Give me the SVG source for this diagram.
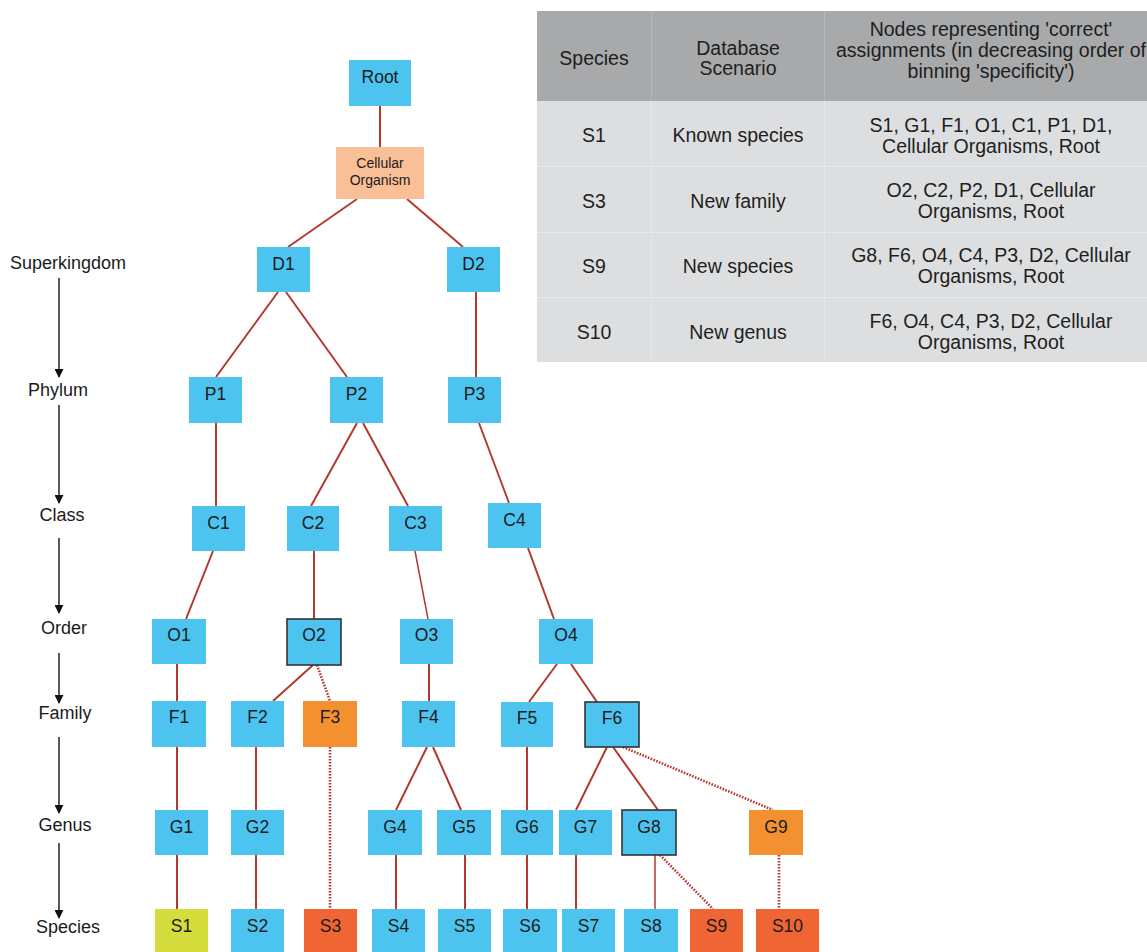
<svg xmlns="http://www.w3.org/2000/svg" width="1147" height="952" viewBox="0 0 1147 952">
  <defs>
    <marker id="rankArrow" viewBox="0 0 10 10" refX="9" refY="5" markerWidth="9" markerHeight="9" markerUnits="userSpaceOnUse" orient="auto">
      <path d="M0,0 L10,5 L0,10 z" fill="#111"/>
    </marker>
    <style>
      text { font-family: "Liberation Sans", Arial, sans-serif; fill: #1b1b1b; }
      .node rect { fill: #4DC4F0; }
      .node text { font-size: 17.5px; text-anchor: middle; }
      .node.sel rect { stroke: #333; stroke-width: 1.6; }
      .node.orange rect { fill: #F39130; }
      .node.red rect { fill: #EF6534; }
      .node.lime rect { fill: #D5DD3C; }
      .node.peach rect { fill: #F9BF97; }
      .node.peach text { font-size: 14px; }
      .edge { stroke: #B3392F; stroke-width: 2; fill: none; }
      .edge.thin { stroke-width: 1.5; }
      .edge.dot { stroke-width: 2.6; stroke-dasharray: 1.6 1.4; }
      .rank text { font-size: 18px; text-anchor: middle; }
      .rank line { stroke: #222; stroke-width: 1.5; marker-end: url(#rankArrow); }
      .tbl text { font-size: 19.5px; text-anchor: middle; fill: #1e1e1e; }
      .hdr { fill: #A8A9AB; }
      .body { fill: #DDDEE0; }
      .sepH { stroke: #B4B5B7; stroke-width: 1; }
      .sepB { stroke: #E7E8EA; stroke-width: 1; }
    </style>
  </defs>

  <rect width="1147" height="952" fill="#FFFFFF"/>

  <!-- rank scale on the left -->
  <g id="ranks" class="rank">
    <text x="68" y="269">Superkingdom</text>
    <line x1="59" y1="278" x2="59" y2="377"/>
    <text x="58" y="396">Phylum</text>
    <line x1="59" y1="405" x2="59" y2="503"/>
    <text x="62" y="521">Class</text>
    <line x1="59" y1="538" x2="59" y2="613"/>
    <text x="64" y="634">Order</text>
    <line x1="59" y1="653" x2="59" y2="703"/>
    <text x="65" y="719">Family</text>
    <line x1="59" y1="737" x2="59" y2="813"/>
    <text x="65" y="831">Genus</text>
    <line x1="59" y1="843" x2="59" y2="918"/>
    <text x="68" y="933">Species</text>
  </g>

  <!-- tree edges -->
  <g id="connectors">
    <line class="edge" x1="380" y1="106" x2="380" y2="147"/>
    <line class="edge" x1="357" y1="199" x2="288" y2="247"/>
    <line class="edge" x1="407" y1="199" x2="463" y2="247"/>
    <line class="edge" x1="278" y1="292" x2="216" y2="377"/>
    <line class="edge" x1="286" y1="292" x2="347" y2="377"/>
    <line class="edge" x1="476" y1="292" x2="476" y2="377"/>
    <line class="edge" x1="216" y1="423" x2="216" y2="506"/>
    <line class="edge" x1="357" y1="423" x2="311" y2="506"/>
    <line class="edge" x1="363" y1="423" x2="408" y2="506"/>
    <line class="edge" x1="479" y1="423" x2="509" y2="503"/>
    <line class="edge" x1="213" y1="551" x2="186" y2="619"/>
    <line class="edge" x1="314" y1="551" x2="314" y2="619"/>
    <line class="edge thin" x1="415" y1="551" x2="428" y2="619"/>
    <line class="edge" x1="528" y1="548" x2="554" y2="619"/>
    <line class="edge" x1="177" y1="664" x2="177" y2="701"/>
    <line class="edge" x1="313" y1="665" x2="273" y2="701"/>
    <line class="edge dot" x1="317" y1="665" x2="330" y2="701"/>
    <line class="edge" x1="429" y1="664" x2="429" y2="701"/>
    <line class="edge" x1="557" y1="664" x2="529" y2="702"/>
    <line class="edge" x1="571" y1="664" x2="597" y2="702"/>
    <line class="edge" x1="177" y1="747" x2="177" y2="810"/>
    <line class="edge" x1="256" y1="747" x2="256" y2="810"/>
    <line class="edge dot" x1="330" y1="747" x2="330" y2="909"/>
    <line class="edge" x1="427" y1="747" x2="396" y2="810"/>
    <line class="edge" x1="433" y1="747" x2="461" y2="810"/>
    <line class="edge" x1="527" y1="747" x2="527" y2="810"/>
    <line class="edge" x1="607" y1="747" x2="576" y2="810"/>
    <line class="edge" x1="613" y1="747" x2="658" y2="810"/>
    <line class="edge dot" x1="623" y1="747" x2="773" y2="810"/>
    <line class="edge" x1="177" y1="855" x2="177" y2="909"/>
    <line class="edge" x1="256" y1="855" x2="256" y2="909"/>
    <line class="edge" x1="396" y1="855" x2="396" y2="909"/>
    <line class="edge" x1="465" y1="855" x2="465" y2="909"/>
    <line class="edge" x1="527" y1="855" x2="527" y2="909"/>
    <line class="edge" x1="576" y1="855" x2="576" y2="909"/>
    <line class="edge thin" x1="655" y1="855" x2="655" y2="909"/>
    <line class="edge dot" x1="660" y1="855" x2="713" y2="909"/>
    <line class="edge dot" x1="779" y1="855" x2="779" y2="909"/>
  </g>

  <!-- tree nodes -->
  <g id="node-root" class="node"><rect x="349" y="60" width="62" height="46"/><text x="380" y="83">Root</text></g>
  <g id="node-cellular" class="node peach"><rect x="336" y="147" width="88" height="52"/><text x="380" y="168">Cellular</text><text x="380" y="185">Organism</text></g>

  <g id="node-D1" class="node"><rect x="257" y="247" width="53" height="45"/><text x="283.5" y="270">D1</text></g>
  <g id="node-D2" class="node"><rect x="447" y="247" width="53" height="45"/><text x="473.5" y="270">D2</text></g>

  <g id="node-P1" class="node"><rect x="189" y="377" width="53" height="46"/><text x="215.5" y="400">P1</text></g>
  <g id="node-P2" class="node"><rect x="330" y="377" width="53" height="46"/><text x="356.5" y="400">P2</text></g>
  <g id="node-P3" class="node"><rect x="448" y="377" width="53" height="46"/><text x="474.5" y="400">P3</text></g>

  <g id="node-C1" class="node"><rect x="192" y="506" width="53" height="45"/><text x="218.5" y="529">C1</text></g>
  <g id="node-C2" class="node"><rect x="287" y="506" width="52" height="45"/><text x="313" y="529">C2</text></g>
  <g id="node-C3" class="node"><rect x="389" y="506" width="53" height="45"/><text x="415.5" y="529">C3</text></g>
  <g id="node-C4" class="node"><rect x="488" y="503" width="53" height="45"/><text x="514.5" y="526">C4</text></g>

  <g id="node-O1" class="node"><rect x="152" y="619" width="54" height="45"/><text x="179" y="641">O1</text></g>
  <g id="node-O2" class="node sel"><rect x="287" y="619" width="54" height="46"/><text x="314" y="641">O2</text></g>
  <g id="node-O3" class="node"><rect x="400" y="619" width="53" height="45"/><text x="426.5" y="641">O3</text></g>
  <g id="node-O4" class="node"><rect x="539" y="619" width="54" height="45"/><text x="566" y="641">O4</text></g>

  <g id="node-F1" class="node"><rect x="152" y="701" width="54" height="46"/><text x="179" y="723">F1</text></g>
  <g id="node-F2" class="node"><rect x="231" y="701" width="53" height="46"/><text x="257.5" y="723">F2</text></g>
  <g id="node-F3" class="node orange"><rect x="303" y="701" width="54" height="46"/><text x="330" y="723">F3</text></g>
  <g id="node-F4" class="node"><rect x="402" y="701" width="53" height="46"/><text x="428.5" y="723">F4</text></g>
  <g id="node-F5" class="node"><rect x="501" y="702" width="52" height="45"/><text x="527" y="724">F5</text></g>
  <g id="node-F6" class="node sel"><rect x="585" y="702" width="54" height="45"/><text x="612" y="724">F6</text></g>

  <g id="node-G1" class="node"><rect x="155" y="810" width="53" height="45"/><text x="181.5" y="833">G1</text></g>
  <g id="node-G2" class="node"><rect x="231" y="810" width="53" height="45"/><text x="257.5" y="833">G2</text></g>
  <g id="node-G4" class="node"><rect x="368" y="810" width="54" height="45"/><text x="395" y="833">G4</text></g>
  <g id="node-G5" class="node"><rect x="437" y="810" width="54" height="45"/><text x="464" y="833">G5</text></g>
  <g id="node-G6" class="node"><rect x="501" y="810" width="52" height="45"/><text x="527" y="833">G6</text></g>
  <g id="node-G7" class="node"><rect x="559" y="810" width="53" height="45"/><text x="585.5" y="833">G7</text></g>
  <g id="node-G8" class="node sel"><rect x="622" y="810" width="54" height="45"/><text x="649" y="833">G8</text></g>
  <g id="node-G9" class="node orange"><rect x="749" y="810" width="54" height="45"/><text x="776" y="833">G9</text></g>

  <g id="node-S1" class="node lime"><rect x="155" y="909" width="53" height="46"/><text x="181.5" y="932">S1</text></g>
  <g id="node-S2" class="node"><rect x="231" y="909" width="53" height="46"/><text x="257.5" y="932">S2</text></g>
  <g id="node-S3" class="node red"><rect x="304" y="909" width="53" height="46"/><text x="330.5" y="932">S3</text></g>
  <g id="node-S4" class="node"><rect x="372" y="909" width="53" height="46"/><text x="398.5" y="932">S4</text></g>
  <g id="node-S5" class="node"><rect x="438" y="909" width="53" height="46"/><text x="464.5" y="932">S5</text></g>
  <g id="node-S6" class="node"><rect x="503" y="909" width="54" height="46"/><text x="530" y="932">S6</text></g>
  <g id="node-S7" class="node"><rect x="562" y="909" width="53" height="46"/><text x="588.5" y="932">S7</text></g>
  <g id="node-S8" class="node"><rect x="624" y="909" width="54" height="46"/><text x="651" y="932">S8</text></g>
  <g id="node-S9" class="node red"><rect x="690" y="909" width="53" height="46"/><text x="716.5" y="932">S9</text></g>
  <g id="node-S10" class="node red"><rect x="756" y="909" width="63" height="46"/><text x="787.5" y="932">S10</text></g>

  <!-- scenario table -->
  <g id="scenario-table" class="tbl">
    <rect class="hdr" x="537" y="11" width="610" height="90"/>
    <rect class="body" x="537" y="101" width="610" height="261"/>
    <line class="sepH" x1="651.5" y1="11" x2="651.5" y2="101"/>
    <line class="sepH" x1="824.5" y1="11" x2="824.5" y2="101"/>
    <line class="sepB" x1="651.5" y1="101" x2="651.5" y2="362"/>
    <line class="sepB" x1="824.5" y1="101" x2="824.5" y2="362"/>
    <line class="sepB" x1="537" y1="166.5" x2="1147" y2="166.5"/>
    <line class="sepB" x1="537" y1="232.5" x2="1147" y2="232.5"/>
    <line class="sepB" x1="537" y1="297.5" x2="1147" y2="297.5"/>

    <text x="594" y="65">Species</text>
    <text x="738" y="55">Database</text>
    <text x="738" y="75">Scenario</text>
    <text x="991" y="36">Nodes representing 'correct'</text>
    <text x="991" y="57">assignments (in decreasing order of</text>
    <text x="991" y="78">binning 'specificity')</text>

    <text x="594" y="142">S1</text>
    <text x="738" y="142">Known species</text>
    <text x="991" y="132">S1, G1, F1, O1, C1, P1, D1,</text>
    <text x="991" y="153">Cellular Organisms, Root</text>

    <text x="594" y="208">S3</text>
    <text x="738" y="208">New family</text>
    <text x="991" y="197">O2, C2, P2, D1, Cellular</text>
    <text x="991" y="218">Organisms, Root</text>

    <text x="594" y="273">S9</text>
    <text x="738" y="273">New species</text>
    <text x="991" y="262">G8, F6, O4, C4, P3, D2, Cellular</text>
    <text x="991" y="283">Organisms, Root</text>

    <text x="594" y="339">S10</text>
    <text x="738" y="339">New genus</text>
    <text x="991" y="328">F6, O4, C4, P3, D2, Cellular</text>
    <text x="991" y="349">Organisms, Root</text>
  </g>
</svg>
